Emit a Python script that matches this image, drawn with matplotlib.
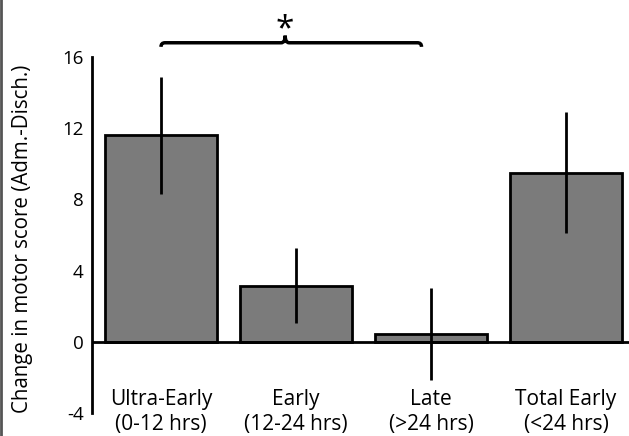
import matplotlib
matplotlib.use("Agg")
import matplotlib.pyplot as plt
from matplotlib.path import Path
from matplotlib.patches import PathPatch
import numpy as np

categories = ["Ultra-Early\n(0-12 hrs)", "Early\n(12-24 hrs)", "Late\n(>24 hrs)", "Total Early\n(<24 hrs)"]
means = [11.6, 3.15, 0.45, 9.5]
errors = [3.3, 2.1, 2.6, 3.4]
yticks = [-4, 0, 4, 8, 12, 16]

plt.rcParams["font.family"] = ["Open Sans", "DejaVu Sans"]

fig = plt.figure(figsize=(6.29, 4.36), dpi=100)
ax = fig.add_axes([92 / 629, 23 / 436, 537 / 629, 356 / 436])

x = np.arange(len(categories))
ax.bar(x, means, width=0.83, color="#7b7b7b", edgecolor="black", linewidth=2, zorder=2)
ax.errorbar(x, means, yerr=errors, fmt="none", ecolor="black", elinewidth=2, capsize=0, zorder=3)

ax.set_xlim(-0.511, 3.467)
ax.set_ylim(-4, 16)
ax.set_yticks(yticks)
ax.set_yticklabels([str(t) for t in yticks], fontsize=13.5)
ax.tick_params(axis="y", length=0, pad=6)
ax.set_xticks([])

for s in ["top", "right", "bottom"]:
    ax.spines[s].set_visible(False)
ax.spines["left"].set_linewidth(2)
ax.axhline(0, color="black", linewidth=2, zorder=4)

for xi, lab in zip(x, categories):
    ax.text(xi, -3.93, lab, ha="center", va="center", fontsize=15, linespacing=1.25)

ax.set_ylabel("Change in motor score (Adm.-Disch.)", fontsize=14.8)
ax.yaxis.set_label_coords(-0.11, 0.49)

# significance bracket between Ultra-Early and Late
x0, x1, xm = 0.0, 1.93, 0.92
yb, yt, yp = 16.57, 16.8, 17.2
verts = [(x0, yb), (x0, yt), (x0 + 0.03, yt),
         (xm - 0.03, yt), (xm, yt), (xm, yp),
         (xm, yt), (xm + 0.03, yt),
         (x1 - 0.03, yt), (x1, yt), (x1, yb)]
codes = [Path.MOVETO, Path.CURVE3, Path.CURVE3,
         Path.LINETO, Path.CURVE3, Path.CURVE3,
         Path.CURVE3, Path.CURVE3,
         Path.LINETO, Path.CURVE3, Path.CURVE3]
ax.add_patch(PathPatch(Path(verts, codes), fill=False, lw=2.5, edgecolor="black", clip_on=False))
ax.text(xm, 17.55, "*", ha="center", va="center", fontsize=24)

fig.add_artist(plt.Line2D([0.002, 0.002], [0, 1], color="#555555", lw=2, transform=fig.transFigure))

fig.savefig("out.png", dpi=100)
